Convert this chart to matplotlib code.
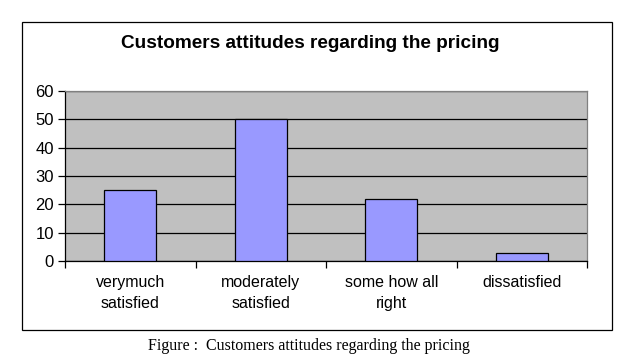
import matplotlib
matplotlib.use("Agg")
import matplotlib.pyplot as plt
from matplotlib.patches import Rectangle

# chart data
categories = ["verymuch\nsatisfied", "moderately\nsatisfied",
              "some how all\nright", "dissatisfied"]
values = [25, 50, 22, 3]
y_ticks = [0, 10, 20, 30, 40, 50, 60]

plt.rcParams['font.family'] = ['Liberation Sans', 'DejaVu Sans']

fig = plt.figure(figsize=(6.3, 3.63), dpi=100)
fig.patch.set_facecolor("white")

# outer chart frame
fig.patches.append(Rectangle((22 / 630, 1 - 330 / 363), 590 / 630, 308 / 363,
                             transform=fig.transFigure, fill=False,
                             edgecolor="black", linewidth=0.9))

ax = fig.add_axes([65 / 630, 1 - 261 / 363, 522 / 630, 170 / 363])
ax.set_facecolor("#c0c0c0")

x = list(range(len(categories)))
ax.bar(x, values, width=0.4, color="#9999ff", edgecolor="black",
       linewidth=0.9, zorder=3)

ax.set_xlim(-0.5, len(categories) - 0.5)
ax.set_ylim(0, 60)
ax.set_yticks(y_ticks)
ax.yaxis.grid(True, color="black", linewidth=0.9, zorder=1)
ax.set_axisbelow(True)

ax.set_xticks(x)
ax.set_xticklabels(categories, fontsize=11.5, linespacing=1.55)
ax.set_xticks([i - 0.5 for i in range(len(categories) + 1)], minor=True)
ax.tick_params(axis="x", which="major", length=0, pad=10)
ax.tick_params(axis="x", which="minor", length=5, direction="out", width=0.9)
ax.tick_params(axis="y", length=5, width=0.9, labelsize=12, pad=3)

for s in ["left", "bottom"]:
    ax.spines[s].set_color("black")
    ax.spines[s].set_linewidth(0.9)
for s in ["top", "right"]:
    ax.spines[s].set_color("#808080")
    ax.spines[s].set_linewidth(0.9)

fig.text(310 / 630, 1 - 43 / 363, "Customers attitudes regarding the pricing",
         ha="center", va="center", fontsize=13.7, fontweight="bold")

fig.text(309 / 630, 1 - 346 / 363,
         "Figure :  Customers attitudes regarding the pricing",
         ha="center", va="center", fontsize=11.5,
         family=["Liberation Serif", "DejaVu Serif"])

fig.savefig("out.png", dpi=100)
